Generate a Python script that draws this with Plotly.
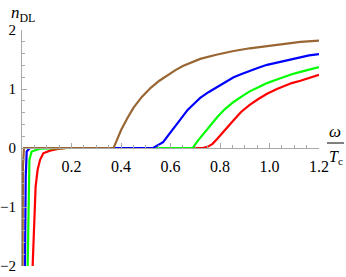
import plotly.graph_objects as go

# omega / T_c values and n_DL values
red_w = [0.043, 0.049, 0.055, 0.063, 0.073, 0.086, 0.113, 0.14, 0.18, 0.4, 0.6, 0.73, 0.75, 0.77, 0.79, 0.81, 0.835, 0.855, 0.885, 0.92, 0.955, 0.99, 1.03, 1.06, 1.09, 1.125, 1.16, 1.2]
red_n = [-2.0, -1.22, -0.66, -0.37, -0.2, -0.09, -0.045, -0.02, 0.0, 0.0, 0.0, 0.0, 0.02, 0.07, 0.16, 0.25, 0.38, 0.47, 0.61, 0.73, 0.83, 0.92, 1.0, 1.05, 1.10, 1.14, 1.19, 1.24]

green_w = [0.023, 0.026, 0.03, 0.039, 0.073, 0.2, 0.5, 0.69, 0.71, 0.73, 0.75, 0.77, 0.79, 0.82, 0.855, 0.89, 0.92, 0.955, 0.99, 1.03, 1.06, 1.09, 1.125, 1.16, 1.2]
green_n = [-2.0, -0.66, -0.2, -0.06, -0.01, 0.0, 0.0, 0.0, 0.12, 0.22, 0.32, 0.43, 0.53, 0.66, 0.78, 0.88, 0.96, 1.03, 1.1, 1.16, 1.21, 1.25, 1.29, 1.33, 1.37]

blue_w = [0.012, 0.015, 0.019, 0.032, 0.2, 0.4, 0.53, 0.57, 0.59, 0.606, 0.63, 0.65, 0.67, 0.69, 0.72, 0.755, 0.79, 0.82, 0.855, 0.89, 0.92, 0.955, 0.99, 1.03, 1.06, 1.09, 1.125, 1.16, 1.2]
blue_n = [-2.0, -0.5, -0.06, 0.0, 0.0, 0.0, 0.0, 0.1, 0.21, 0.3, 0.44, 0.56, 0.65, 0.73, 0.85, 0.95, 1.04, 1.12, 1.2, 1.26, 1.31, 1.36, 1.41, 1.45, 1.48, 1.51, 1.54, 1.57, 1.59]

brown_w = [0.002, 0.004, 0.008, 0.2, 0.37, 0.385, 0.40, 0.425, 0.45, 0.485, 0.52, 0.555, 0.59, 0.62, 0.65, 0.685, 0.72, 0.785, 0.85, 0.92, 0.99, 1.06, 1.125, 1.2]
brown_n = [-2.0, -0.3, 0.0, 0.0, 0.0, 0.15, 0.3, 0.5, 0.68, 0.87, 1.02, 1.14, 1.24, 1.32, 1.39, 1.45, 1.51, 1.58, 1.64, 1.69, 1.73, 1.77, 1.80, 1.82]

x_ticks = [0.2, 0.4, 0.6, 0.8, 1.0, 1.2]
x_tick_text = ["0.2", "0.4", "0.6", "0.8", "1.0", "1.2"]
y_ticks = [-2, -1, 0, 1, 2]
y_tick_text = ["\u22122", "\u22121", "0", "1", "2"]

series = [
    (red_w, red_n, "#ff0000"),
    (green_w, green_n, "#00ff00"),
    (blue_w, blue_n, "#0000ff"),
    (brown_w, brown_n, "#996633"),
]

fig = go.Figure()
for w, n, c in series:
    fig.add_trace(go.Scatter(x=w, y=n, mode="lines", line=dict(color=c, width=2.2),
                             showlegend=False, hoverinfo="skip"))

FAM = "Liberation Serif"
xfont = dict(family=FAM, size=16, color="black")
yfont = dict(family=FAM, size=15, color="black")
axcol = "#a8a8a8"

fig.update_layout(
    width=346, height=277,
    margin=dict(l=22, r=27, t=30, b=11, autoexpand=False),
    plot_bgcolor="white", paper_bgcolor="white",
    font=xfont,
    xaxis=dict(
        range=[0, 1.2], anchor="free", position=0.5, automargin=False,
        showgrid=False, zeroline=False, showline=True, linecolor=axcol, linewidth=1,
        tickmode="array", tickvals=x_ticks, ticktext=x_tick_text,
        ticks="inside", ticklen=5, tickcolor=axcol, tickwidth=1,
        minor=dict(dtick=0.05, tick0=0, ticks="inside", ticklen=3, tickcolor=axcol, tickwidth=1),
        tickfont=xfont, ticklabelstandoff=4,
    ),
    yaxis=dict(
        range=[-2, 2], automargin=False, showgrid=False, zeroline=False, showline=True,
        linecolor=axcol, linewidth=1,
        tickmode="array", tickvals=y_ticks, ticktext=y_tick_text,
        ticks="inside", ticklen=5, tickcolor=axcol, tickwidth=1,
        minor=dict(dtick=0.2, tick0=0, ticks="inside", ticklen=3, tickcolor=axcol, tickwidth=1),
        tickfont=yfont, ticklabelstandoff=2,
    ),
)

fig.add_annotation(text="<i>n</i><sub>DL</sub>", xref="paper", yref="paper", x=-13 / 297, y=1 + 16 / 236,
                   xanchor="left", yanchor="middle", showarrow=False, font=dict(family=FAM, size=17))
fig.add_annotation(text="<i>\u03c9</i>", xref="paper", yref="paper", x=1 + 16 / 297, y=0.5 + 17 / 236,
                   xanchor="center", yanchor="middle", showarrow=False, font=dict(family=FAM, size=17))
fig.add_annotation(text="<i>T</i><sub>c</sub>", xref="paper", yref="paper", x=1 + 17 / 297, y=0.5 - 9 / 236,
                   xanchor="center", yanchor="middle", showarrow=False, font=dict(family=FAM, size=16))
fig.add_shape(type="line", xref="paper", yref="paper", x0=1 + 8 / 297, x1=1 + 25 / 297,
              y0=0.5 + 5 / 236, y1=0.5 + 5 / 236, line=dict(color="black", width=1))

fig.write_html("out.html", config={"displayModeBar": False},
               post_script="document.body.style.margin='0';")
